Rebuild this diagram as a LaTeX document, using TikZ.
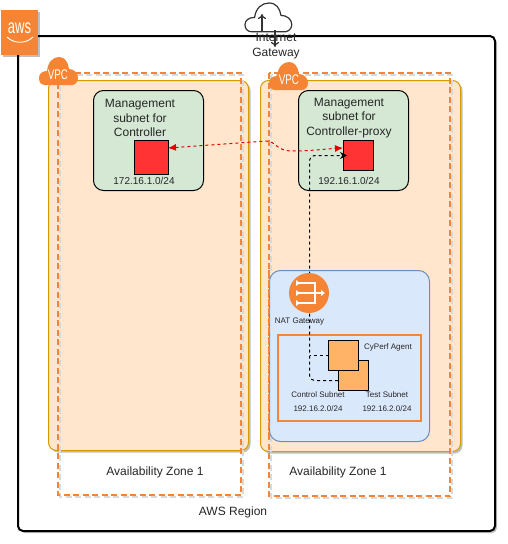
\documentclass[tikz,border=0pt]{standalone}
\usepackage{fontspec}
\setmainfont{Liberation Sans}
\usetikzlibrary{shadows,arrows.meta}
\definecolor{awsorange}{HTML}{F58534}
\definecolor{vpcfill}{HTML}{FFE6CC}
\definecolor{vpcline}{HTML}{D79B00}
\definecolor{subnetfill}{HTML}{D5E8D4}
\definecolor{panelfill}{HTML}{DAE8FC}
\definecolor{panelline}{HTML}{6C8EBF}
\definecolor{agentfill}{HTML}{FFB366}
\definecolor{mgmtred}{HTML}{FF3333}
\definecolor{txtgray}{HTML}{262626}
\tikzset{
  softshadow/.style={drop shadow={shadow xshift=2pt, shadow yshift=-2pt, opacity=.25, fill=black}},
  box/.style={draw, anchor=north west, inner sep=0, outer sep=0, rounded corners=#1},
  box/.default=8pt,
  regionbox/.style={box=5pt, line width=2pt, fill=white, softshadow},
  vpcbox/.style={box=8pt, draw=vpcline, fill=vpcfill, softshadow},
  subnetbox/.style={box=10pt, draw=black, fill=subnetfill},
  panelbox/.style={box=11pt, draw=panelline, fill=panelfill},
  square/.style={draw=black, anchor=north west, inner sep=0, outer sep=0},
  zoneline/.style={draw=awsorange, line width=2.2pt, dash pattern=on 6pt off 3.5pt},
  zoneshade/.style={draw=black!15, line width=1.5pt, dash pattern=on 6pt off 3.5pt},
  lbl/.style={text=txtgray, font=\fontsize{12}{14.3}\selectfont, align=center, inner sep=0},
  small/.style={text=txtgray, font=\fontsize{10}{12}\selectfont, inner sep=0},
  tiny/.style={text=txtgray, font=\fontsize{8}{10}\selectfont, inner sep=0},
  cloudtxt/.style={text=white, font=\fontsize{14}{14}\selectfont, xscale=.7, inner sep=0},
  redlink/.style={red!90!black, dash pattern=on 3pt off 3pt, {Latex[length=8pt,width=7pt]}-{Latex[length=8pt,width=7pt]}},
  blacklink/.style={black, dash pattern=on 3pt off 3pt, rounded corners=5pt},
  gwarrow/.style={black!80, line width=1.2pt, -{To[length=5pt,width=8pt]}}
}
% cloud outline, 39 wide and 28 high
\newcommand{\cloudpath}{(6,28) .. controls (2,28) and (0,25) .. (0,21) .. controls (0,17) and (3,14) .. (8,14)
  .. controls (9,5) and (14,0) .. (20,0) .. controls (26,0) and (29,5) .. (30,12)
  .. controls (35,12) and (39,16) .. (39,21) .. controls (39,25) and (36,28) .. (33,28) -- cycle}
\begin{document}
\begin{tikzpicture}[x=1pt, y=-1pt, line width=1pt]
\useasboundingbox (0,0) rectangle (508,544);
\fill[white] (0,0) rectangle (508,544);

\node [regionbox, minimum width=477pt, minimum height=495pt] (region) at (18,36) {};

% the two VPCs
\node [vpcbox, minimum width=200pt, minimum height=370pt] (vpcA) at (48.5,80.5) {};
\node [vpcbox, minimum width=200pt, minimum height=371pt] (vpcB) at (260.5,80.5) {};

% availability zones
\draw[zoneshade] (60,75) rectangle (243,497);
\draw[zoneshade] (271,75) rectangle (452,498);
\draw[zoneline] (58,73) rectangle (241,495);
\draw[zoneline] (269,73) rectangle (450,496);

% subnets
\node [subnetbox, minimum width=110pt, minimum height=100pt] (subA) at (93.5,90.5) {};
\node [subnetbox, minimum width=110pt, minimum height=100pt] (subB) at (298.5,90.5) {};
\node [lbl] (subAtxt) at (140,118) {Management\\subnet for\\Controller};
\node [lbl] (subBtxt) at (349,118) {Management\\subnet for\\Controller-proxy};
\node [small] (ipA) at (144,181) {172.16.1.0/24};
\node [small] (ipB) at (349,181) {192.16.1.0/24};
\node [square, fill=mgmtred, minimum size=34pt] (redA) at (134.5,140.5) {};
\node [square, fill=mgmtred, minimum width=30pt, minimum height=30pt] (redB) at (343.5,140.5) {};

% agent panel
\node [panelbox, minimum width=160pt, minimum height=171pt] (panel) at (269.5,270.5) {};
\draw[zoneline] (269,270) -- (269,441);
\node [square, draw=awsorange, line width=1.1pt, minimum width=143pt, minimum height=86pt] (agentbox) at (278,335) {};
\node [square, fill=agentfill, minimum size=30pt] (agentB) at (338.5,360.5) {};
\node [square, fill=agentfill, minimum size=30pt] (agentA) at (328.5,340.5) {};

% connectors
\coordinate (turnB) at (309.5,380.5);
\coordinate (turnA) at (309.5,355.5);
\coordinate (turnUp) at (309.5,155.5);
\coordinate (tipB) at (347,155.5);
\coordinate (startB) at (338,380.5);
\coordinate (bendR) at (266,141);
\coordinate (tipR) at (343,148);
\coordinate (tipL) at (168,148);
\draw[blacklink, -{Stealth[length=7pt,width=7pt]}] (startB) -- (turnB) -- (turnUp) -- (tipB);
\draw[blacklink] (agentA.west) -- (turnA);
\draw[redlink] (tipL) -- (bendR) .. controls (276,141) and (276,151) .. (292,151) .. controls (310,151) and (325,149) .. (tipR);

% NAT gateway
\node [circle, fill=awsorange, minimum size=40pt, inner sep=0] (nat) at (309,293) {};
\draw[white, line width=1.2pt] (299,283) -- (315,283) -- (315,303) -- (299,303);
\draw[white, line width=1.2pt, -{Latex[length=4pt,width=7pt]}] (299,293) -- (325,293);
\fill[white] (296,280) -- (300,283) -- (296,286) -- cycle;
\fill[white] (296,290) -- (300,293) -- (296,296) -- cycle;
\fill[white] (296,300) -- (300,303) -- (296,306) -- cycle;
\node [tiny] (natlbl) at (299.5,322) {NAT Gateway};

\node [tiny] (agentlbl) at (388,347) {CyPerf Agent};
\node [tiny] (ctrllbl) at (318,395) {Control Subnet};
\node [tiny] (testlbl) at (387,395) {Test Subnet};
\node [tiny] (ctrlip) at (318,409) {192.16.2.0/24};
\node [tiny] (testip) at (387,409) {192.16.2.0/24};

\node [lbl] (azA) at (155,472) {Availability Zone 1};
\node [lbl] (azB) at (338,472) {Availability Zone 1};
\node [lbl] (regionlbl) at (233,512) {AWS Region};

% VPC clouds
\fill[awsorange, shift={(39,57)}] \cloudpath;
\fill[awsorange, shift={(269,62)}] \cloudpath;
\node [cloudtxt] (vpcAtxt) at (58,75) {VPC};
\node [cloudtxt] (vpcBtxt) at (289,80) {VPC};

% internet gateway
\draw[black!80, line width=1.2pt, shift={(245,3)}, xscale=1.2, yscale=1.03] \cloudpath;
\coordinate (gwUpS) at (262,31);
\coordinate (gwUpE) at (262,14);
\coordinate (gwDnS) at (275,30);
\coordinate (gwDnE) at (275,47);
\draw[gwarrow] (gwUpS) -- (gwUpE);
\draw[gwarrow] (gwDnS) -- (gwDnE);
\node [lbl] (gwlbl) at (276,46) {Internet\\Gateway};

% aws badge
\node [square, draw=none, fill=awsorange, minimum width=37pt, minimum height=45pt, softshadow] (aws) at (1,10) {};
\node [text=white, font=\fontsize{20}{20}\selectfont, xscale=.65, inner sep=0] (awstxt) at (19.5,28) {aws};
\draw[white, line width=.9pt] (7,37) .. controls (14,44) and (26,44) .. (33,37);
\end{tikzpicture}
\end{document}
